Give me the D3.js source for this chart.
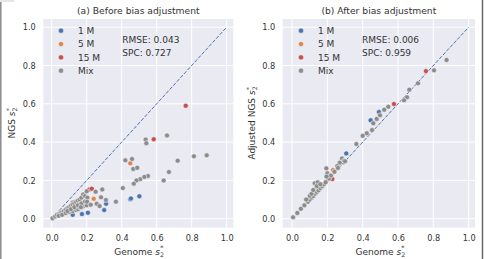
<!DOCTYPE html>
<html><head><meta charset="utf-8">
<script src="https://cdn.jsdelivr.net/npm/d3@7"></script>
<style>body{margin:0;background:#fff;} svg{display:block;font-family:"DejaVu Sans",sans-serif;}</style>
</head><body>
<svg id="c" width="484" height="259"></svg>
<script>
// ---------- data ----------
const seriesNames = ["1 M", "5 M", "15 M", "Mix"];
const seriesColors = ["#4C72B0", "#DD8452", "#C44E52", "#8C8C8C"];
const tickValues = [0.0, 0.2, 0.4, 0.6, 0.8, 1.0];

// (a) before adjustment
const a1M_x = [0.12, 0.173, 0.207, 0.300, 0.311, 0.449, 0.453, 0.501];
const a1M_y = [0.020, 0.024, 0.031, 0.045, 0.078, 0.101, 0.106, 0.117];
const a5M_x = [0.240, 0.449];
const a5M_y = [0.104, 0.289];
const a15M_x = [0.122, 0.215, 0.229, 0.583, 0.766];
const a15M_y = [0.084, 0.153, 0.157, 0.415, 0.590];
const aMix_x = [0.005, 0.02, 0.03, 0.04, 0.05, 0.06, 0.07, 0.08, 0.09, 0.10, 0.11, 0.12, 0.13, 0.14, 0.15, 0.16, 0.17, 0.18, 0.19, 0.20,
  0.04, 0.06, 0.08, 0.10, 0.12, 0.14, 0.15, 0.16, 0.18, 0.20,
  0.09, 0.11, 0.13, 0.15, 0.17, 0.19, 0.204, 0.202, 0.223, 0.167,
  0.251, 0.289, 0.407, 0.367, 0.282, 0.257, 0.274, 0.310,
  0.421, 0.459, 0.466, 0.489, 0.537, 0.541, 0.659, 0.720, 0.813, 0.886, 0.670, 0.640, 0.550, 0.529, 0.505, 0.484, 0.469];
const aMix_y = [0.003, 0.012, 0.020, 0.025, 0.030, 0.035, 0.040, 0.048, 0.055, 0.060, 0.068, 0.075, 0.080, 0.088, 0.095, 0.100, 0.110, 0.127, 0.118, 0.143,
  0.015, 0.020, 0.030, 0.035, 0.040, 0.045, 0.050, 0.060, 0.065, 0.070,
  0.040, 0.050, 0.060, 0.070, 0.080, 0.090, 0.110, 0.089, 0.073, 0.060,
  0.141, 0.153, 0.160, 0.089, 0.112, 0.078, 0.066, 0.098,
  0.305, 0.312, 0.260, 0.266, 0.413, 0.394, 0.435, 0.303, 0.326, 0.331, 0.244, 0.200, 0.223, 0.218, 0.206, 0.200, 0.183];

// (b) after adjustment
const b1M_x = [0.290, 0.307, 0.445, 0.492];
const b1M_y = [0.295, 0.341, 0.514, 0.557];
const b5M_x = [0.232];
const b5M_y = [0.254];
const b15M_x = [0.228, 0.577, 0.758];
const b15M_y = [0.207, 0.599, 0.771];
const bMix_x = [0.875, 0.804, 0.713, 0.664, 0.651, 0.634, 0.545, 0.522, 0.498, 0.479, 0.460, 0.453, 0.423, 0.400, 0.364, 0.283, 0.294, 0.270, 0.256, 0.194, 0.200, 0.213, 0.204, 0.128, 0.145,
  0.006, 0.030, 0.050, 0.070, 0.090, 0.100, 0.110, 0.120, 0.130, 0.140, 0.150, 0.160, 0.170, 0.180, 0.190, 0.210, 0.220, 0.240, 0.260, 0.300,
  0.080, 0.100, 0.110, 0.120, 0.140, 0.160, 0.195];
const bMix_y = [0.829, 0.775, 0.707, 0.674, 0.634, 0.618, 0.585, 0.569, 0.540, 0.521, 0.498, 0.463, 0.446, 0.433, 0.390, 0.315, 0.303, 0.292, 0.275, 0.263, 0.237, 0.223, 0.206, 0.185, 0.190,
  0.007, 0.030, 0.052, 0.070, 0.088, 0.100, 0.110, 0.118, 0.130, 0.140, 0.148, 0.160, 0.170, 0.180, 0.190, 0.210, 0.225, 0.245, 0.265, 0.300,
  0.100, 0.120, 0.130, 0.150, 0.170, 0.180, 0.220];

const panels = [
  {title: "(a) Before bias adjustment", ylab: "NGS ", rmse: "RMSE: 0.043", spc: "SPC: 0.727",
   xs: [a1M_x, a5M_x, a15M_x, aMix_x], ys: [a1M_y, a5M_y, a15M_y, aMix_y]},
  {title: "(b) After bias adjustment", ylab: "Adjusted NGS ", rmse: "RMSE: 0.006", spc: "SPC: 0.959",
   xs: [b1M_x, b5M_x, b15M_x, bMix_x], ys: [b1M_y, b5M_y, b15M_y, bMix_y]}
];

// ---------- layout ----------
const layout = [
  {x0: 43.3, x1: 233.3, xd: [-0.048, 1.038], legX: 61, legTX: 78, statX: 122.3, ylabX: 12},
  {x0: 282.7, x1: 475, xd: [-0.053, 1.036], legX: 301, legTX: 318, statX: 362, ylabX: 252}
];
const yTop = 19, yBot = 227.7, yd = [-0.047, 1.043];
const txt = "#333";

const svg = d3.select("#c");

// figure frame edges
svg.append("line").attr("x1", 0.8).attr("x2", 0.8).attr("y1", 2).attr("y2", 259).attr("stroke", "#8a8a8a").attr("stroke-width", 1.5);
svg.append("line").attr("x1", 0).attr("x2", 14).attr("y1", 1).attr("y2", 1).attr("stroke", "#ccc").attr("stroke-width", 1);
svg.append("line").attr("x1", 482.5).attr("x2", 482.5).attr("y1", 0).attr("y2", 259).attr("stroke", "#6a6a6a").attr("stroke-width", 1.5);

function sLabel(sel, prefix) {
  sel.append("tspan").text(prefix);
  sel.append("tspan").attr("font-style", "italic").text("s");
  sel.append("tspan").attr("font-size", "6.3px").attr("dy", 2).text("2");
  sel.append("tspan").attr("font-size", "6.3px").attr("dx", -3.8).attr("dy", -6.5).text("*");
}

panels.forEach((p, i) => {
  const L = layout[i];
  const x = d3.scaleLinear().domain(L.xd).range([L.x0, L.x1]);
  const y = d3.scaleLinear().domain(yd).range([yBot, yTop]);
  const g = svg.append("g");

  g.append("rect").attr("x", L.x0).attr("y", yTop).attr("width", L.x1 - L.x0).attr("height", yBot - yTop).attr("fill", "#EAEAF2");

  // grid
  g.selectAll(".gx").data(tickValues).join("line")
    .attr("x1", d => x(d)).attr("x2", d => x(d)).attr("y1", yTop).attr("y2", yBot)
    .attr("stroke", "#fff").attr("stroke-width", 1);
  g.selectAll(".gy").data(tickValues).join("line").attr("class", "gyl")
    .attr("y1", d => y(d)).attr("y2", d => y(d)).attr("x1", L.x0).attr("x2", L.x1)
    .attr("stroke", "#fff").attr("stroke-width", 1);

  // axes (no domain/ticks lines, just labels)
  const xa = g.append("g").attr("transform", `translate(0,${yBot})`)
    .call(d3.axisBottom(x).tickValues(tickValues).tickFormat(d3.format(".1f")).tickSize(0).tickPadding(7.5));
  const ya = g.append("g").attr("transform", `translate(${L.x0},0)`)
    .call(d3.axisLeft(y).tickValues(tickValues).tickFormat(d3.format(".1f")).tickSize(0).tickPadding(7.5));
  [xa, ya].forEach(a => {
    a.select(".domain").remove();
    a.selectAll("text").attr("font-size", "8.2px").attr("fill", txt).attr("font-family", "DejaVu Sans");
  });

  // diagonal
  g.append("line").attr("x1", x(0)).attr("y1", y(0)).attr("x2", x(1)).attr("y2", y(1))
    .attr("stroke", "#4C72B0").attr("stroke-width", 1).attr("stroke-dasharray", "3.7,1.6");

  // points
  p.xs.forEach((xs, s) => {
    const pts = xs.map((v, k) => [v, p.ys[s][k]]);
    g.selectAll(null).data(pts).join("circle")
      .attr("cx", d => x(d[0])).attr("cy", d => y(d[1])).attr("r", 2.5)
      .attr("fill", seriesColors[s]).attr("stroke", "#fff").attr("stroke-width", 0.5);
  });

  // title
  g.append("text").attr("x", (L.x0 + L.x1) / 2).attr("y", 13.5).attr("text-anchor", "middle")
    .attr("font-size", "9.2px").attr("fill", txt).text(p.title);

  // axis labels
  const xl = g.append("text").attr("x", (x(0) + x(1)) / 2).attr("y", 254.5).attr("text-anchor", "middle")
    .attr("font-size", "9px").attr("fill", txt);
  sLabel(xl, "Genome ");
  const yl = g.append("text").attr("transform", `translate(${L.ylabX + 3},${(y(0) + y(1)) / 2}) rotate(-90)`)
    .attr("text-anchor", "middle").attr("font-size", "9px").attr("fill", txt);
  sLabel(yl, p.ylab);

  // legend
  seriesNames.forEach((n, s) => {
    const cy = 30.7 + s * 13.33;
    g.append("circle").attr("cx", L.legX).attr("cy", cy).attr("r", 2.6)
      .attr("fill", seriesColors[s]).attr("stroke", "#fff").attr("stroke-width", 0.5);
    g.append("text").attr("x", L.legTX).attr("y", cy + 3.2).attr("font-size", "9px").attr("fill", txt).text(n);
  });

  g.append("text").attr("x", L.statX).attr("y", 42.5).attr("font-size", "9px").attr("fill", txt).text(p.rmse);
  g.append("text").attr("x", L.statX).attr("y", 55.7).attr("font-size", "9px").attr("fill", txt).text(p.spc);
});
</script>
</body></html>
